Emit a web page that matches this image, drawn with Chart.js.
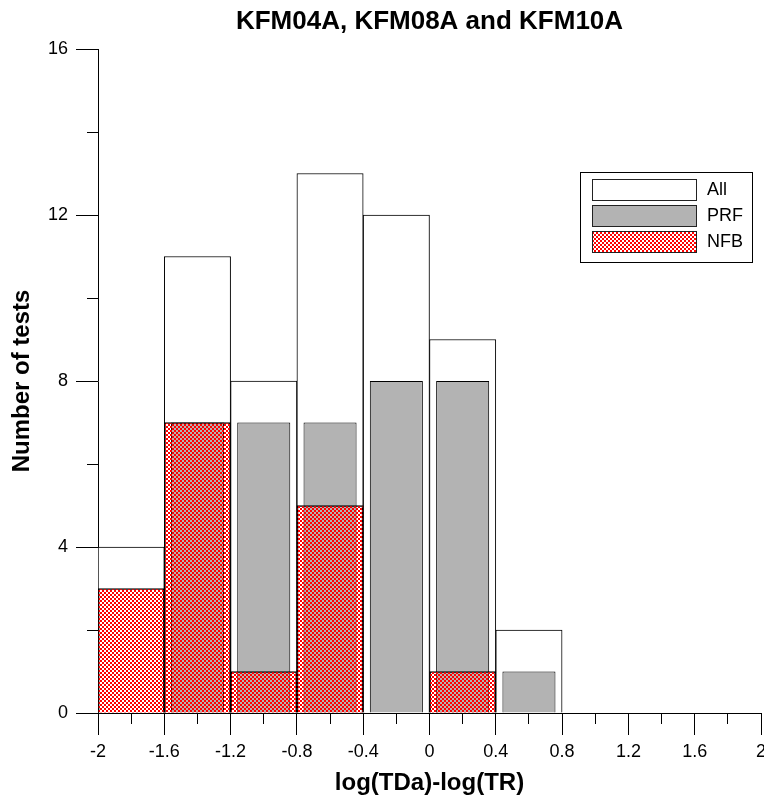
<!DOCTYPE html>
<html>
<head>
<meta charset="utf-8">
<title>KFM04A, KFM08A and KFM10A</title>
<script src="https://cdn.jsdelivr.net/npm/chart.js@4"></script>
<style>
  html, body { margin: 0; padding: 0; background: #fff; }
  canvas { display: block; }
</style>
</head>
<body>
<canvas id="chart" width="764" height="798"></canvas>
<script>
// Histogram bins (centres of 0.4-wide classes of log(TDa)-log(TR))
const binCenters = [-1.8, -1.4, -1.0, -0.6, -0.2, 0.2, 0.6];
// Number of tests per bin
const allCounts = [4, 11, 8, 13, 12, 9, 2];
const prfCounts = [0, 7, 7, 7, 8, 8, 1];
const nfbCounts = [3, 7, 1, 5, 0, 1, 0];
const seriesNames = ['All', 'PRF', 'NFB'];

// Axis ticks
const xTicks = [-2, -1.6, -1.2, -0.8, -0.4, 0, 0.4, 0.8, 1.2, 1.6, 2];
const xMinorTicks = [-1.8, -1.4, -1.0, -0.6, -0.2, 0.2, 0.6, 1.0, 1.4, 1.8];
const yTicks = [0, 4, 8, 12, 16];
const yMinorTicks = [2, 6, 10, 14];

const FONT = "'Liberation Sans', Arial, Helvetica, sans-serif";

const canvas = document.getElementById('chart');
const ctx = canvas.getContext('2d');

// Red checker hatch used for the NFB bars
function makeHatch() {
  const tile = document.createElement('canvas');
  tile.width = 4; tile.height = 4;
  const g = tile.getContext('2d');
  g.fillStyle = '#ff0000';
  g.fillRect(0, 0, 2, 2);
  g.fillRect(2, 2, 2, 2);
  return ctx.createPattern(tile, 'repeat');
}
const hatch = makeHatch();

function toPoints(counts) {
  return binCenters
    .map((x, i) => ({ x: x, y: counts[i] }))
    .filter(p => p.y > 0);
}

function alignPx(p) { return Math.round(p - 0.5) + 0.5; }

// Short ticks between the labelled ones
const minorTicks = {
  id: 'minorTicks',
  afterDraw(chart) {
    const { ctx, scales: { x, y } } = chart;
    ctx.save();
    ctx.strokeStyle = '#000';
    ctx.lineWidth = 1;
    ctx.beginPath();
    xMinorTicks.forEach(v => {
      const px = alignPx(x.getPixelForValue(v));
      ctx.moveTo(px, y.bottom);
      ctx.lineTo(px, y.bottom + 11);
    });
    yMinorTicks.forEach(v => {
      const py = alignPx(y.getPixelForValue(v));
      ctx.moveTo(x.left - 11, py);
      ctx.lineTo(x.left, py);
    });
    ctx.stroke();
    ctx.restore();
  }
};

// Framed legend in the upper right of the plot
const boxLegend = {
  id: 'boxLegend',
  afterDraw(chart) {
    const { ctx } = chart;
    const left = 580.5, top = 172.5, w = 172, h = 90;
    ctx.save();
    ctx.fillStyle = '#fff';
    ctx.fillRect(left, top, w, h);
    ctx.strokeStyle = '#000';
    ctx.lineWidth = 1;
    ctx.strokeRect(left, top, w, h);
    chart.data.datasets.forEach((ds, i) => {
      const sy = 179.5 + i * 26;
      ctx.fillStyle = ds.backgroundColor;
      ctx.fillRect(592.5, sy, 104, 21);
      ctx.strokeStyle = '#222';
      ctx.strokeRect(592.5, sy, 104, 21);
      ctx.fillStyle = '#000';
      ctx.font = '18px ' + FONT;
      ctx.textBaseline = 'middle';
      ctx.textAlign = 'left';
      ctx.fillText(ds.label, 707, sy + 11);
    });
    ctx.restore();
  }
};

new Chart(ctx, {
  type: 'bar',
  data: {
    datasets: [
      {
        label: seriesNames[0],
        data: toPoints(allCounts),
        backgroundColor: '#ffffff',
        borderColor: '#000',
        borderWidth: 1,
        grouped: false,
        barPercentage: 1,
        categoryPercentage: 1,
        order: 3
      },
      {
        label: seriesNames[1],
        data: toPoints(prfCounts),
        backgroundColor: '#b3b3b3',
        borderColor: '#000',
        borderWidth: 1,
        grouped: false,
        barPercentage: 0.8,
        categoryPercentage: 1,
        order: 2
      },
      {
        label: seriesNames[2],
        data: toPoints(nfbCounts),
        backgroundColor: hatch,
        borderColor: '#000',
        borderWidth: 1,
        grouped: false,
        barPercentage: 1,
        categoryPercentage: 1,
        order: 1
      }
    ]
  },
  options: {
    responsive: false,
    animation: false,
    devicePixelRatio: 1,
    layout: { padding: 0 },
    plugins: {
      legend: { display: false },
      tooltip: { enabled: false },
      title: {
        display: true,
        text: 'KFM04A, KFM08A and KFM10A',
        fullSize: false,
        color: '#000',
        font: { family: FONT, size: 26, weight: 'bold' },
        padding: { top: 6, bottom: 11.8 }
      }
    },
    scales: {
      x: {
        type: 'linear',
        min: -2,
        max: 2,
        offset: false,
        afterBuildTicks: s => { s.ticks = xTicks.map(v => ({ value: v })); },
        afterFit: s => { s.height = 85; s.paddingRight = 3; },
        ticks: {
          color: '#000',
          font: { family: FONT, size: 18 },
          padding: 6,
          maxRotation: 0,
          autoSkip: false,
          callback: v => String(Math.round(v * 10) / 10)
        },
        grid: {
          display: true,
          offset: false,
          drawOnChartArea: false,
          drawTicks: true,
          tickLength: 22,
          color: '#000',
          lineWidth: 1
        },
        border: { display: true, color: '#000', width: 1 },
        title: {
          display: true,
          text: 'log(TDa)-log(TR)',
          color: '#000',
          font: { family: FONT, size: 24, weight: 'bold' },
          padding: { top: 0, bottom: 0 }
        }
      },
      y: {
        type: 'linear',
        min: 0,
        max: 16,
        afterBuildTicks: s => { s.ticks = yTicks.map(v => ({ value: v })); },
        afterFit: s => { s.width = 98; },
        ticks: {
          color: '#000',
          font: { family: FONT, size: 18 },
          padding: 8,
          callback: v => String(v)
        },
        grid: {
          display: true,
          drawOnChartArea: false,
          drawTicks: true,
          tickLength: 22,
          color: '#000',
          lineWidth: 1
        },
        border: { display: true, color: '#000', width: 1 },
        title: {
          display: true,
          text: 'Number of tests',
          color: '#000',
          font: { family: FONT, size: 24, weight: 'bold' },
          padding: { top: 8, bottom: 0 }
        }
      }
    }
  },
  plugins: [minorTicks, boxLegend]
});
</script>
</body>
</html>
